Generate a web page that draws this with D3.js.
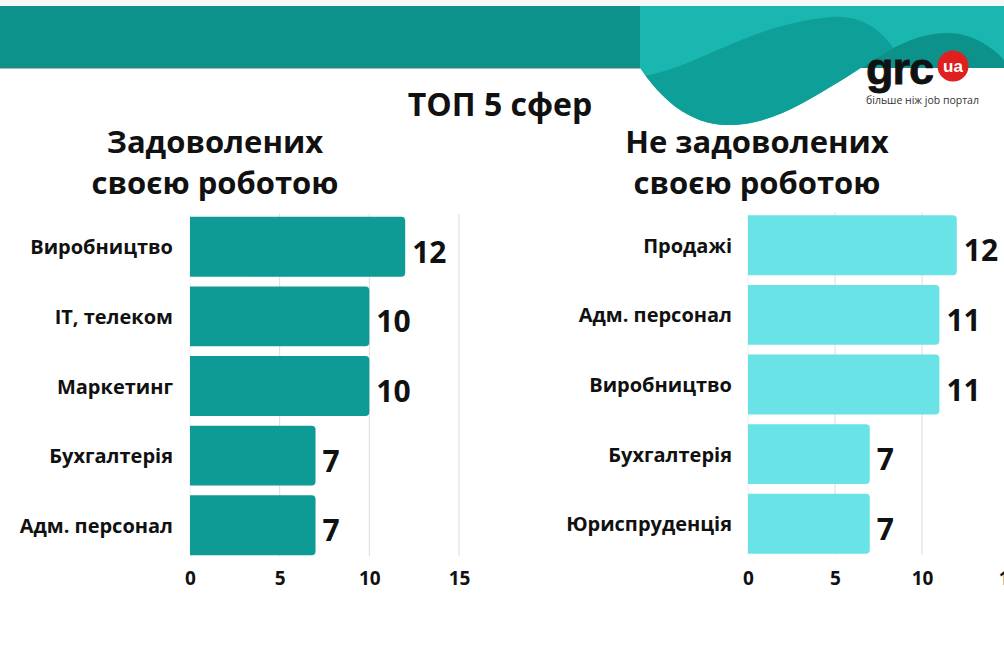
<!DOCTYPE html>
<html><head><meta charset="utf-8">
<script src="https://cdn.jsdelivr.net/npm/d3@7"></script>
<style>
html,body{margin:0;padding:0;background:#fff;}
svg{display:block;font-family:"Open Sans",sans-serif;}
</style></head>
<body>
<svg id="chart" width="1004" height="647"></svg>
<script>
const leftCategories = ["Виробництво", "ІТ, телеком", "Маркетинг", "Бухгалтерія", "Адм. персонал"];
const leftValues = [12, 10, 10, 7, 7];
const rightCategories = ["Продажі", "Адм. персонал", "Виробництво", "Бухгалтерія", "Юриспруденція"];
const rightValues = [12, 11, 11, 7, 7];
const tickValues = [0, 5, 10, 15];
const mainTitle = "ТОП 5 сфер";
const leftTitle = ["Задоволених", "своєю роботою"];
const rightTitle = ["Не задоволених", "своєю роботою"];

const svg = d3.select("#chart");

// header decoration
svg.append("rect").attr("x",0).attr("y",0).attr("width",1004).attr("height",6).attr("fill","#f6f8f8");
svg.append("rect").attr("x",0).attr("y",6).attr("width",1004).attr("height",62).attr("fill","#0c928b");
svg.append("rect").attr("x",0).attr("y",67).attr("width",640).attr("height",1.5).attr("fill","#2a847f");
const outer = "M640,6 H1004 V60 C990,44 968,33 948,33 C905,33 872,62 842,80 C802,104 770,125 728,125 C688,125 660,97 640,68 Z";
const defs = svg.append("defs");
defs.append("clipPath").attr("id","waveclip").append("path").attr("d", outer);
svg.append("path").attr("d", outer).attr("fill","#1ab7b0");
svg.append("path").attr("clip-path","url(#waveclip)")
  .attr("d","M630,78 C690,74 745,24 832,17 C868,15 888,36 902,62 L902,140 L630,140 Z")
  .attr("fill","#0e9f98");

// logo
const logo = svg.append("g");
logo.append("text").attr("x",866).attr("y",84).attr("font-family","'Liberation Sans',Arial,sans-serif")
  .attr("font-weight",700).attr("font-size",45).attr("letter-spacing",-1).attr("fill","#111")
  .attr("stroke","#111").attr("stroke-width",0.8).text("grc");
logo.append("circle").attr("cx",953).attr("cy",66).attr("r",15.5).attr("fill","#e0201f");
logo.append("text").attr("x",953).attr("y",72).attr("text-anchor","middle").attr("font-family","'Liberation Sans',Arial,sans-serif")
  .attr("font-weight",700).attr("font-size",17).attr("fill","#fff").text("ua");
logo.append("text").attr("x",866).attr("y",104).attr("font-size",10.5).attr("fill","#333").text("більше ніж job портал");

// titles
svg.append("text").attr("x",500).attr("y",116).attr("text-anchor","middle").attr("font-weight",700)
  .attr("font-size",32).attr("fill","#111").text(mainTitle);

function drawPanel(opts){
  const {cats, vals, x0, x15, y0, y1, color, title, titleX, labelOffset} = opts;
  const g = svg.append("g");
  const x = d3.scaleLinear().domain([0,15]).range([x0,x15]);
  const y = d3.scaleBand().domain(cats).range([y0,y1]).paddingInner(0.14).paddingOuter(0.07);

  title.forEach((t,i)=>{
    g.append("text").attr("x",titleX).attr("y",153 + i*41).attr("text-anchor","middle")
      .attr("font-weight",700).attr("font-size",31).attr("fill","#111").text(t);
  });

  const gridTop = y(cats[0]) - 3, gridBottom = y(cats[cats.length-1]) + y.bandwidth() + 1;
  g.selectAll("line.grid").data(tickValues).join("line").attr("class","grid")
    .attr("x1",d=>x(d)).attr("x2",d=>x(d)).attr("y1",gridTop).attr("y2",gridBottom)
    .attr("stroke",d=>d===0?"#eeeeee":"#dcdcdc").attr("stroke-width",1);

  const r = 4;
  g.selectAll("path.bar").data(vals).join("path").attr("class","bar")
    .attr("fill",color)
    .attr("d",(d,i)=>{
      const xa = x(0), xb = x(d), ya = y(cats[i]), h = y.bandwidth();
      return `M${xa},${ya} H${xb-r} Q${xb},${ya} ${xb},${ya+r} V${ya+h-r} Q${xb},${ya+h} ${xb-r},${ya+h} H${xa} Z`;
    });

  g.selectAll("text.val").data(vals).join("text").attr("class","val")
    .attr("x",d=>x(d)+7).attr("y",(d,i)=>y(cats[i]) + y.bandwidth()/2 + 16)
    .attr("font-weight",700).attr("font-size",30).attr("fill","#111").text(d=>d);

  g.selectAll("text.cat").data(cats).join("text").attr("class","cat")
    .attr("x",x(0)-labelOffset).attr("y",d=>y(d)+y.bandwidth()/2+7.5).attr("text-anchor","end")
    .attr("font-weight",700).attr("font-size",20).attr("fill","#111").text(d=>d);

  const axis = d3.axisBottom(x).tickValues(tickValues).tickSize(0).tickPadding(3).tickFormat(d3.format("d"));
  const ag = g.append("g").attr("transform",`translate(0,568)`).call(axis);
  ag.select(".domain").remove();
  ag.selectAll("text").attr("font-family","'Open Sans',sans-serif").attr("font-weight",700)
    .attr("font-size",19).attr("fill","#111");
}

drawPanel({cats:leftCategories, vals:leftValues, x0:190, x15:459, y0:212, y1:560, color:"#0e9b95",
  title:leftTitle, titleX:215, labelOffset:17});
drawPanel({cats:rightCategories, vals:rightValues, x0:748, x15:1009, y0:210.5, y1:558.5, color:"#6ae3e6",
  title:rightTitle, titleX:757, labelOffset:16});
</script>
</body></html>
